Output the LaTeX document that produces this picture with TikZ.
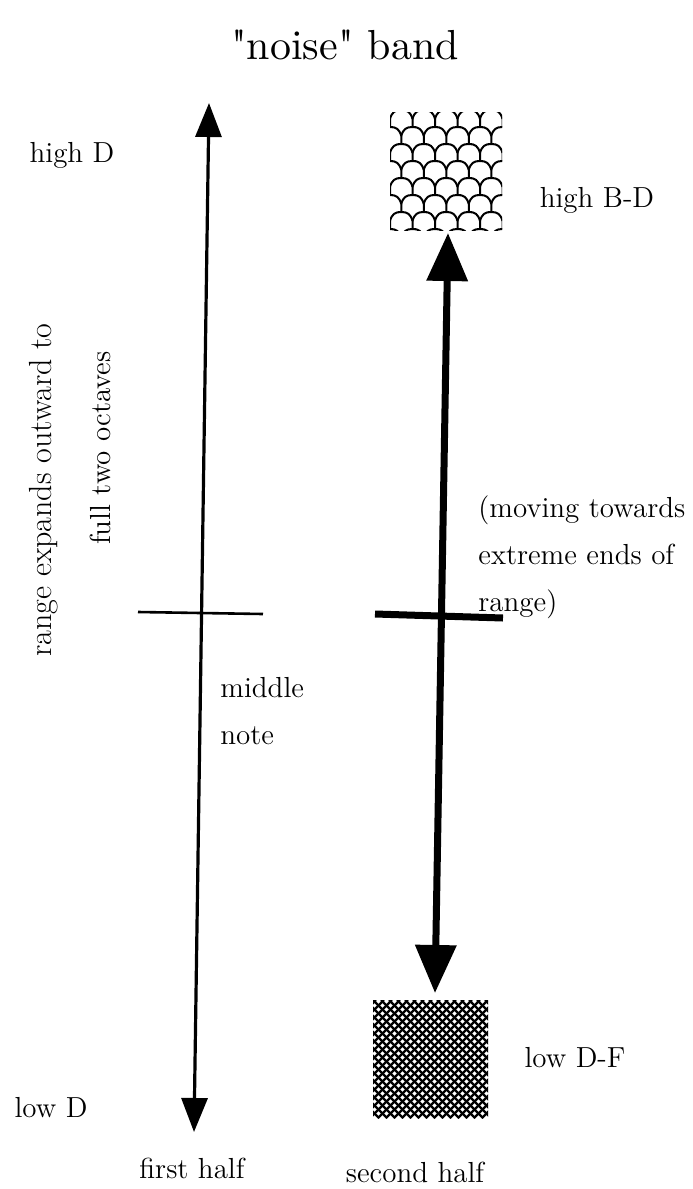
\documentclass[tikz,border=0pt]{standalone}
\usepackage{tikz}
\usetikzlibrary{arrows.meta}
% plain font, no tex-text mapping, so that " stays straight
\font\titlefont="[lmroman10-regular.otf]" at 21pt

\begin{document}
\begin{tikzpicture}[
  x=0.5pt, y=-0.5pt,
  every node/.style={inner sep=0pt},
  lbl/.style={font=\fontsize{14.5}{23.5}\selectfont},
  sidelbl/.style={font=\fontsize{16}{20}\selectfont,rotate=90},
  thinarrow/.style={{Triangle[length=17pt,width=13pt]}-{Triangle[length=17pt,width=13pt]},line width=1.6pt},
  thickarrow/.style={{Triangle[length=24pt,width=20pt]}-{Triangle[length=24pt,width=20pt]},line width=3.5pt},
  tickline/.style={line width=1.3pt},
  boldtick/.style={line width=3.5pt},
  scaleline/.style={line width=1pt}
]
  \useasboundingbox (0,0) rectangle (692,1189);

  % title
  \node[font=\titlefont] (title) at (345,45) {"noise" band};

  % first half
  \node[lbl] (highD) at (72,155) {high D};
  \node[lbl] (lowD) at (51,1108) {low D};
  \coordinate (ltop) at (209,103);
  \coordinate (lbot) at (194,1132);
  \draw[thinarrow] (lbot) -- (ltop);
  \coordinate (lmidw) at (138,612);
  \coordinate (lmide) at (263,614);
  \draw[tickline] (lmidw) -- (lmide);
  \node[lbl,align=left,anchor=west] (middle) at (220,711) {middle\\note};
  \node[sidelbl] (range) at (44,490) {range expands outward to};
  \node[lbl,rotate=90] (octaves) at (100,448) {full two octaves};
  \node[lbl] (first) at (192,1168) {first half};

  % second half
  \node[lbl] (highBD) at (597,200) {high B-D};
  \node[lbl] (lowDF) at (575,1058) {low D-F};
  \node[lbl,align=left,anchor=west] (moving) at (478,557) {(moving towards\\extreme ends of\\range)};
  \node[lbl] (second) at (415,1172) {second half};

  % scales pattern
  \begin{scope}
    \clip (390,112) rectangle (502,230);
    \foreach \r in {0,...,7}
      \foreach \c in {-1,...,5} {
        \pgfmathsetmacro\xa{390+\c*22.5+mod(\r,2)*11.25}
        \pgfmathsetmacro\ya{110+\r*17}
        \draw[scaleline] (\xa,\ya+9) .. controls (\xa+2,\ya+2) and (\xa+5,\ya) .. (\xa+11.25,\ya)
          .. controls (\xa+17.5,\ya) and (\xa+20.5,\ya+2) .. (\xa+22.5,\ya+9) -- (\xa+22.5,\ya+17);
        \draw[scaleline] (\xa+19.5,\ya+17) -- (\xa+25.5,\ya+17);
      }
  \end{scope}
  \node[minimum width=56pt,minimum height=59pt] (highbox) at (446,171) {};

  % mesh pattern
  \begin{scope}
    \clip (373,1000) rectangle (488,1118);
    \foreach \k in {-16,...,16} {
      \draw[line width=1.1pt] (373+\k*8,1000) -- ++(118,118);
      \draw[line width=1.1pt] (488-\k*8,1000) -- ++(-118,118);
    }
  \end{scope}
  \node[minimum width=57.5pt,minimum height=59pt] (lowbox) at (430.5,1059) {};

  \coordinate (rtop) at (448,233);
  \coordinate (rbot) at (435,993);
  \draw[thickarrow] (rbot) -- (rtop);
  \coordinate (rmidw) at (375,614);
  \coordinate (rmide) at (503,618);
  \draw[boldtick] (rmidw) -- (rmide);
\end{tikzpicture}
\end{document}
